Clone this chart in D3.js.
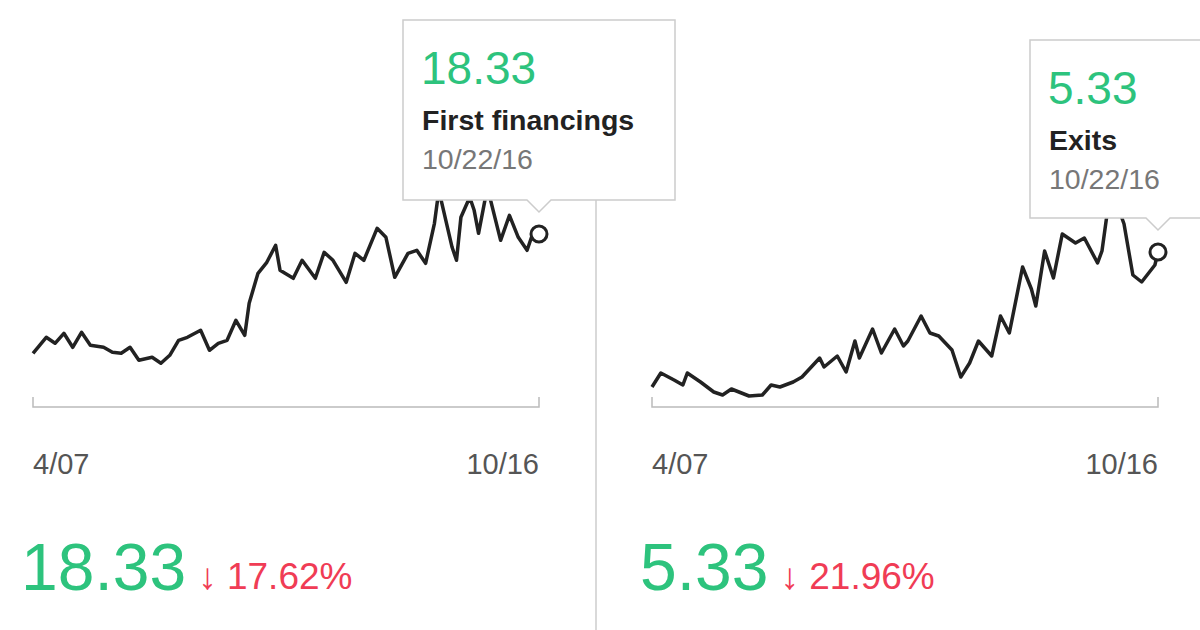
<!DOCTYPE html>
<html>
<head>
<meta charset="utf-8">
<script src="https://cdn.jsdelivr.net/npm/d3@7"></script>
<style>
  body { margin: 0; background: #fff; }
  text { font-family: "Liberation Sans", Arial, sans-serif; }
</style>
</head>
<body>
<svg id="chart" width="1200" height="630"></svg>
<script>
// months since 2007-04 for each reading, and the values
const leftMonths = [0,3,5,7,9,11,13,16,18,20,22,24,27,29,31,33,35,38,40,42,44,46,48,49,51,53,55,56,59,61,64,66,68,71,73,75,78,80,82,85,87,89,91,92,95,96,97,99,100,101,103,106,108,110,112,113,114.7];
const leftValues = [6.4,8.0,7.4,8.4,7.0,8.5,7.2,7.0,6.5,6.4,7.0,5.7,6.0,5.4,6.2,7.7,8.0,8.7,6.7,7.4,7.7,9.7,8.2,11.4,14.4,15.5,17.2,14.7,13.9,15.7,13.9,16.5,15.7,13.5,16.4,15.7,18.9,18.0,14.0,16.4,16.7,15.4,19.4,22.7,17.0,15.7,20.0,22.0,20.7,18.4,23.0,17.7,20.2,18.0,16.7,18.0,18.33];
const rightMonths = [0,2,5,7,8,11,14,16,18,22,25,27,29,32,34,38,39,42,44,46,47,50,52,55,57,58,61,63,65,68,70,72,74,77,79,81,84,86,87,89,91,93,96,98,101,102,104,107,109,111,114,114.7];
const rightValues = [2.63,2.91,2.77,2.67,2.91,2.73,2.53,2.47,2.59,2.45,2.47,2.67,2.63,2.73,2.83,3.21,3.03,3.25,2.93,3.55,3.21,3.79,3.31,3.79,3.45,3.55,4.05,3.71,3.65,3.37,2.83,3.11,3.55,3.25,4.05,3.71,5.03,4.59,4.25,5.35,4.81,5.69,5.51,5.61,5.11,5.35,6.63,5.89,4.87,4.73,5.07,5.33];
const tickLabels = ["4/07", "10/16"];

const green = "#2dc37d", red = "#f03c55";
const svg = d3.select("#chart");

function panel(o) {
  const g = svg.append("g");
  const x = d3.scaleLinear().domain([0, 114.7]).range([o.x0, o.x0 + 506]);
  const y = d3.scaleLinear().domain(o.domain).range(o.range);
  const data = o.months.map((m, i) => ({ m: m, v: o.values[i] }));

  // axis
  g.append("path")
    .attr("d", `M${x(0)},397V407H${x(114.7)}V397`)
    .attr("fill", "none").attr("stroke", "#bbb").attr("stroke-width", 1.5);
  g.append("text").attr("x", x(0)).attr("y", 474).attr("font-size", 29).attr("fill", "#555").text(tickLabels[0]);
  g.append("text").attr("x", x(114.7)).attr("y", 474).attr("font-size", 29).attr("fill", "#555")
    .attr("text-anchor", "end").text(tickLabels[1]);

  g.append("path").datum(data)
    .attr("d", d3.line().x(d => x(d.m)).y(d => y(d.v)))
    .attr("fill", "none").attr("stroke", "#222").attr("stroke-width", 3.5).attr("stroke-linejoin", "round");

  // tooltip
  const last = data[data.length - 1];
  const px = x(last.m), py = y(last.v);
  const bx = o.box[0], by = o.box[1], bw = o.box[2], bh = o.box[3];
  g.append("path")
    .attr("d", `M${bx},${by}H${bx + bw}V${by + bh}H${px + 12}L${px},${by + bh + 12}L${px - 12},${by + bh}H${bx}Z`)
    .attr("fill", "#fff").attr("stroke", "#ccc").attr("stroke-width", 1.5);
  g.append("text").attr("x", bx + 18).attr("y", by + 64).attr("font-size", 46).attr("fill", green).text(o.label);
  g.append("text").attr("x", bx + 19).attr("y", by + 110).attr("font-size", 28.5).attr("font-weight", "bold").attr("fill", "#222").text(o.name);
  g.append("text").attr("x", bx + 19).attr("y", by + 149).attr("font-size", 28.5).attr("fill", "#777").text(o.date);

  g.append("circle").attr("cx", px).attr("cy", py).attr("r", 8)
    .attr("fill", "#fff").attr("stroke", "#222").attr("stroke-width", 3);

  // bottom summary
  const big = g.append("text").attr("x", o.x0 - 12).attr("y", 590).attr("font-size", 66).attr("fill", green).text(o.label);
  const w = big.node().getComputedTextLength();
  g.append("text").attr("x", o.x0 - 12 + w + 12).attr("y", 589).attr("font-size", 37).attr("fill", red)
    .text("↓ " + o.change);
}

panel({ x0: 33, months: leftMonths, values: leftValues, domain: [0, 30], range: [417.3, 117.3],
  box: [403, 20, 272, 180], label: "18.33", name: "First financings", date: "10/22/16", change: "17.62%" });
panel({ x0: 652, months: rightMonths, values: rightValues, domain: [0, 10], range: [518.5, 18.5],
  box: [1030, 40, 200, 178], label: "5.33", name: "Exits", date: "10/22/16", change: "21.96%" });

svg.append("line").attr("x1", 596).attr("x2", 596).attr("y1", 200).attr("y2", 630)
  .attr("stroke", "#ccc").attr("stroke-width", 1.5);
</script>
</body>
</html>
